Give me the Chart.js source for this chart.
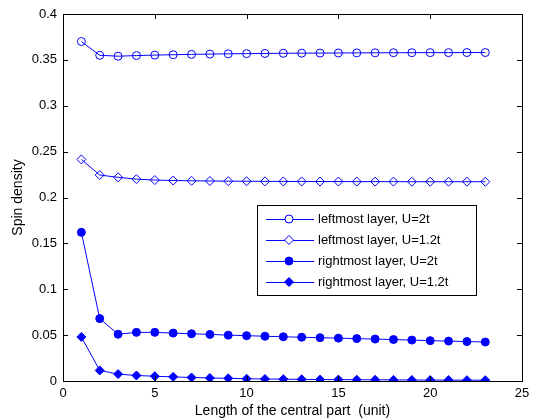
<!DOCTYPE html>
<html>
<head>
<meta charset="utf-8">
<script src="https://cdn.jsdelivr.net/npm/chart.js@4/dist/chart.umd.min.js"></script>
<style>
html, body { margin: 0; padding: 0; background: #fff; }
#wrap { width: 536px; height: 420px; }
</style>
</head>
<body>
<div id="wrap"><canvas id="myChart" width="536" height="420"></canvas></div>
<script>
// lengths of the central part
var lengths = [1,2,3,4,5,6,7,8,9,10,11,12,13,14,15,16,17,18,19,20,21,22,23];

var leftU2 = [0.370,0.355,0.354,0.3547,0.3552,0.3556,0.3560,0.3563,0.3566,0.3568,0.3570,0.3572,0.3573,0.3574,0.3575,0.3576,0.3577,0.3578,0.3578,0.3579,0.3579,0.3580,0.3580];
var leftU12 = [0.2415,0.2245,0.2220,0.2200,0.2190,0.2185,0.2182,0.2180,0.2178,0.2177,0.2176,0.2175,0.2175,0.2174,0.2174,0.2173,0.2173,0.2173,0.2172,0.2172,0.2172,0.2172,0.2172];
var rightU2 = [0.162,0.068,0.0510,0.0530,0.0530,0.0522,0.0515,0.0508,0.0500,0.0494,0.0488,0.0482,0.0477,0.0472,0.0467,0.0462,0.0457,0.0452,0.0446,0.0440,0.0435,0.0430,0.0425];
var rightU12 = [0.048,0.0115,0.0075,0.0060,0.0052,0.0045,0.0038,0.0033,0.0029,0.0025,0.0022,0.0020,0.0018,0.0016,0.0015,0.0014,0.0013,0.0012,0.0011,0.0010,0.0010,0.0009,0.0009];

var seriesNames = ["leftmost layer, U=2t", "leftmost layer, U=1.2t", "rightmost layer, U=2t", "rightmost layer, U=1.2t"];
var xTicks = [0,5,10,15,20,25];
var yTicks = [0,0.05,0.1,0.15,0.2,0.25,0.3,0.35,0.4];

var blue = '#0000ff';
var fontFam = '"Liberation Sans", Arial, Helvetica, sans-serif';

function toPoints(ys) {
    return lengths.map(function (x, i) { return { x: x, y: ys[i] }; });
}

function makeSet(label, ys, style, filled, radius) {
    return {
        label: label,
        data: toPoints(ys),
        borderColor: blue,
        borderWidth: 1,
        pointStyle: style,
        pointRadius: radius,
        pointHoverRadius: radius,
        pointBorderColor: blue,
        pointBorderWidth: 1,
        pointBackgroundColor: filled ? blue : 'rgba(0,0,0,0)',
        fill: false,
        tension: 0
    };
}

// frame, inward ticks and the boxed legend, matlab style
var framePlugin = {
    id: 'frame',
    afterDraw: function (chart) {
        var ctx = chart.ctx;
        var a = chart.chartArea;
        var xs = chart.scales.x, ys = chart.scales.y;
        ctx.save();
        ctx.strokeStyle = '#000';
        ctx.lineWidth = 1;
        ctx.strokeRect(Math.round(a.left) + 0.5, Math.round(a.top) + 0.5, Math.round(a.right - a.left), Math.round(a.bottom - a.top));
        ctx.beginPath();
        xTicks.forEach(function (v) {
            var px = Math.round(xs.getPixelForValue(v)) + 0.5;
            ctx.moveTo(px, a.bottom); ctx.lineTo(px, a.bottom - 5);
            ctx.moveTo(px, a.top); ctx.lineTo(px, a.top + 5);
        });
        yTicks.forEach(function (v) {
            var py = Math.round(ys.getPixelForValue(v)) + 0.5;
            ctx.moveTo(a.left, py); ctx.lineTo(a.left + 5, py);
            ctx.moveTo(a.right, py); ctx.lineTo(a.right - 5, py);
        });
        ctx.stroke();

        // legend box
        var bx = 257, by = 205, bw = 219, bh = 90;
        ctx.fillStyle = '#fff';
        ctx.fillRect(bx, by, bw, bh);
        ctx.strokeStyle = '#000';
        ctx.strokeRect(bx + 0.5, by + 0.5, bw, bh);
        ctx.font = '13px ' + fontFam;
        ctx.textBaseline = 'middle';
        chart.data.datasets.forEach(function (ds, i) {
            var yy = by + 14 + i * 21;
            ctx.strokeStyle = blue;
            ctx.beginPath();
            ctx.moveTo(bx + 9, yy + 0.5); ctx.lineTo(bx + 57, yy + 0.5);
            ctx.stroke();
            ctx.fillStyle = ds.pointBackgroundColor === blue ? blue : '#fff';
            ctx.strokeStyle = blue;
            ctx.lineWidth = 1;
            Chart.helpers.drawPoint(ctx, {
                pointStyle: ds.pointStyle,
                radius: ds.pointRadius,
                borderWidth: 1,
                rotation: 0
            }, bx + 32, yy);
            ctx.fillStyle = '#000';
            ctx.fillText(ds.label, bx + 61, yy);
        });
        ctx.restore();
    }
};

var ctx = document.getElementById('myChart').getContext('2d');
var myChart = new Chart(ctx, {
    type: 'line',
    data: {
        datasets: [
            makeSet(seriesNames[0], leftU2, 'circle', false, 4),
            makeSet(seriesNames[1], leftU12, 'rectRot', false, 4.5),
            makeSet(seriesNames[2], rightU2, 'circle', true, 4),
            makeSet(seriesNames[3], rightU12, 'rectRot', true, 4.5)
        ]
    },
    options: {
        responsive: false,
        animation: false,
        events: [],
        layout: { padding: { left: 0, right: 14, top: 14, bottom: 0 } },
        plugins: {
            legend: { display: false },
            tooltip: { enabled: false }
        },
        scales: {
            x: {
                type: 'linear',
                min: 0,
                max: 25,
                afterBuildTicks: function (s) { s.ticks = xTicks.map(function (v) { return { value: v }; }); },
                afterFit: function (s) { s.height = 39; },
                grid: { display: false, drawTicks: false },
                border: { display: false },
                ticks: { color: '#000', padding: 5, font: { size: 13, family: fontFam }, maxRotation: 0 },
                title: { display: true, text: 'Length of the central part  (unit)', color: '#000', padding: { top: 0, bottom: 0 }, font: { size: 14, family: fontFam } }
            },
            y: {
                type: 'linear',
                min: 0,
                max: 0.4,
                afterBuildTicks: function (s) { s.ticks = yTicks.map(function (v) { return { value: v }; }); },
                afterFit: function (s) { s.width = 63; },
                grid: { display: false, drawTicks: false },
                border: { display: false },
                ticks: {
                    color: '#000', padding: 6, font: { size: 13, family: fontFam },
                    callback: function (v) { return String(Math.round(v * 100) / 100); }
                },
                title: { display: true, text: 'Spin density', color: '#000', padding: { top: 10, bottom: 0 }, font: { size: 14, family: fontFam } }
            }
        }
    },
    plugins: [framePlugin]
});
</script>
</body>
</html>
